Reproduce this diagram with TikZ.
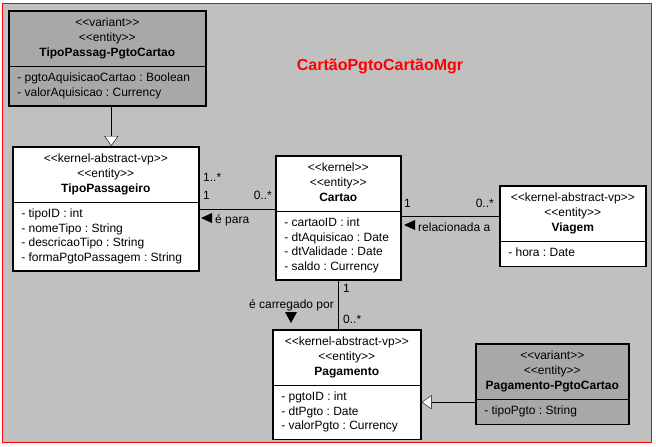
\documentclass[tikz,border=0pt]{standalone}
\usepackage{fontspec}
\setmainfont{Liberation Sans}
\usetikzlibrary{shapes.multipart}
\usetikzlibrary{arrows.meta}
\definecolor{fundo}{RGB}{192,192,192}
\definecolor{cinzaesc}{RGB}{168,168,168}
\newcommand{\estereo}[1]{<{}<#1>{}>}
\newcommand{\attrs}{\fontsize{12}{14.5}\selectfont}
\frenchspacing
\tikzset{
  classe/.style={rectangle split, rectangle split parts=2,
    rectangle split part align={center,left}, draw, line width=1.6pt,
    fill=white, anchor=north west, inner xsep=8.5pt, inner ysep=4.5pt,
    font=\fontsize{12}{15}\selectfont},
  variante/.style={classe, fill=cinzaesc},
  heranca/.style={-{Triangle[length=10pt,width=14pt,fill=white]}},
  rotulo/.style={font=\fontsize{12}{14}\selectfont, inner sep=0pt}
}

\begin{document}
\begin{tikzpicture}[x=1pt,y=-1pt]
  \useasboundingbox (0,0) rectangle (656,447);
  \draw[red, fill=fundo, line width=1pt] (2.5,3.5) rectangle (651,442);

  \node[red, font=\fontsize{16}{19}\selectfont\bfseries, anchor=base] (titulo) at (380,70) {CartãoPgtoCartãoMgr};

  % classes
  \node[variante, minimum width=197pt] (tpvar) at (8,10) {
    \begin{tabular}{@{}c@{}}\estereo{variant}\\\estereo{entity}\\\textbf{TipoPassag-PgtoCartao}\end{tabular}
    \nodepart{two}\attrs
    \begin{tabular}{@{}l@{}}- pgtoAquisicaoCartao : Boolean\\- valorAquisicao : Currency\end{tabular}};

  \node[classe, minimum width=186pt] (tipopass) at (12,146) {
    \begin{tabular}{@{}c@{}}\estereo{kernel-abstract-vp}\\\estereo{entity}\\\textbf{TipoPassageiro}\end{tabular}
    \nodepart{two}\attrs
    \begin{tabular}{@{}l@{}}- tipoID : int\\- nomeTipo : String\\- descricaoTipo : String\\- formaPgtoPassagem : String\end{tabular}};

  \node[classe, minimum width=125pt] (cartao) at (275,155) {
    \begin{tabular}{@{}c@{}}\estereo{kernel}\\\estereo{entity}\\\textbf{Cartao}\end{tabular}
    \nodepart{two}\attrs
    \begin{tabular}{@{}l@{}}- cartaoID : int\\- dtAquisicao : Date\\- dtValidade : Date\\- saldo : Currency\end{tabular}};

  \node[classe, minimum width=146pt] (viagem) at (499,185) {
    \begin{tabular}{@{}c@{}}\estereo{kernel-abstract-vp}\\\estereo{entity}\\\textbf{Viagem}\end{tabular}
    \nodepart{two}\attrs
    \begin{tabular}{@{}l@{}}- hora : Date\end{tabular}};

  \node[classe, minimum width=148pt] (pagamento) at (272,329) {
    \begin{tabular}{@{}c@{}}\estereo{kernel-abstract-vp}\\\estereo{entity}\\\textbf{Pagamento}\end{tabular}
    \nodepart{two}\attrs
    \begin{tabular}{@{}l@{}}- pgtoID : int\\- dtPgto : Date\\- valorPgto : Currency\end{tabular}};

  \node[variante, minimum width=153pt] (pagvar) at (475,343) {
    \begin{tabular}{@{}c@{}}\estereo{variant}\\\estereo{entity}\\\textbf{Pagamento-PgtoCartao}\end{tabular}
    \nodepart{two}\attrs
    \begin{tabular}{@{}l@{}}- tipoPgto : String\end{tabular}};

  % heranca
  \draw[heranca] ([xshift=4pt]tpvar.south) -- ([xshift=4pt]tpvar.south |- tipopass.north);
  \draw[heranca] ([yshift=-18pt]pagvar.west) -- ([yshift=-18pt]pagvar.west -| pagamento.east);

  % associacoes
  \draw (tipopass.east) -- (tipopass.east -| cartao.west);
  \node[rotulo, anchor=base west] (m1) at (203,181) {1..*};
  \node[rotulo, anchor=base west] (m2) at (203,199) {1};
  \node[rotulo, anchor=base east] (m3) at (272,199) {0..*};
  \fill (201,218) -- (212,213) -- (212,223) -- cycle;
  \node[rotulo, anchor=base west] (n1) at (215,223) {é para};

  \draw ([yshift=2pt]cartao.east) -- ([yshift=2pt]cartao.east -| viagem.west);
  \node[rotulo, anchor=base west] (m4) at (404,207) {1};
  \node[rotulo, anchor=base east] (m5) at (494,207) {0..*};
  \fill (404,225) -- (415,220) -- (415,230) -- cycle;
  \node[rotulo, anchor=base west] (n2) at (418,231) {relacionada a};

  \draw (cartao.south) -- (cartao.south |- pagamento.north);
  \node[rotulo, anchor=base west] (m6) at (343,292) {1};
  \node[rotulo, anchor=base west] (m7) at (343,323) {0..*};
  \node[rotulo, anchor=base east] (n3) at (334,308) {é carregado por};
  \fill (285,312) -- (297,312) -- (291,323) -- cycle;
\end{tikzpicture}
\end{document}
